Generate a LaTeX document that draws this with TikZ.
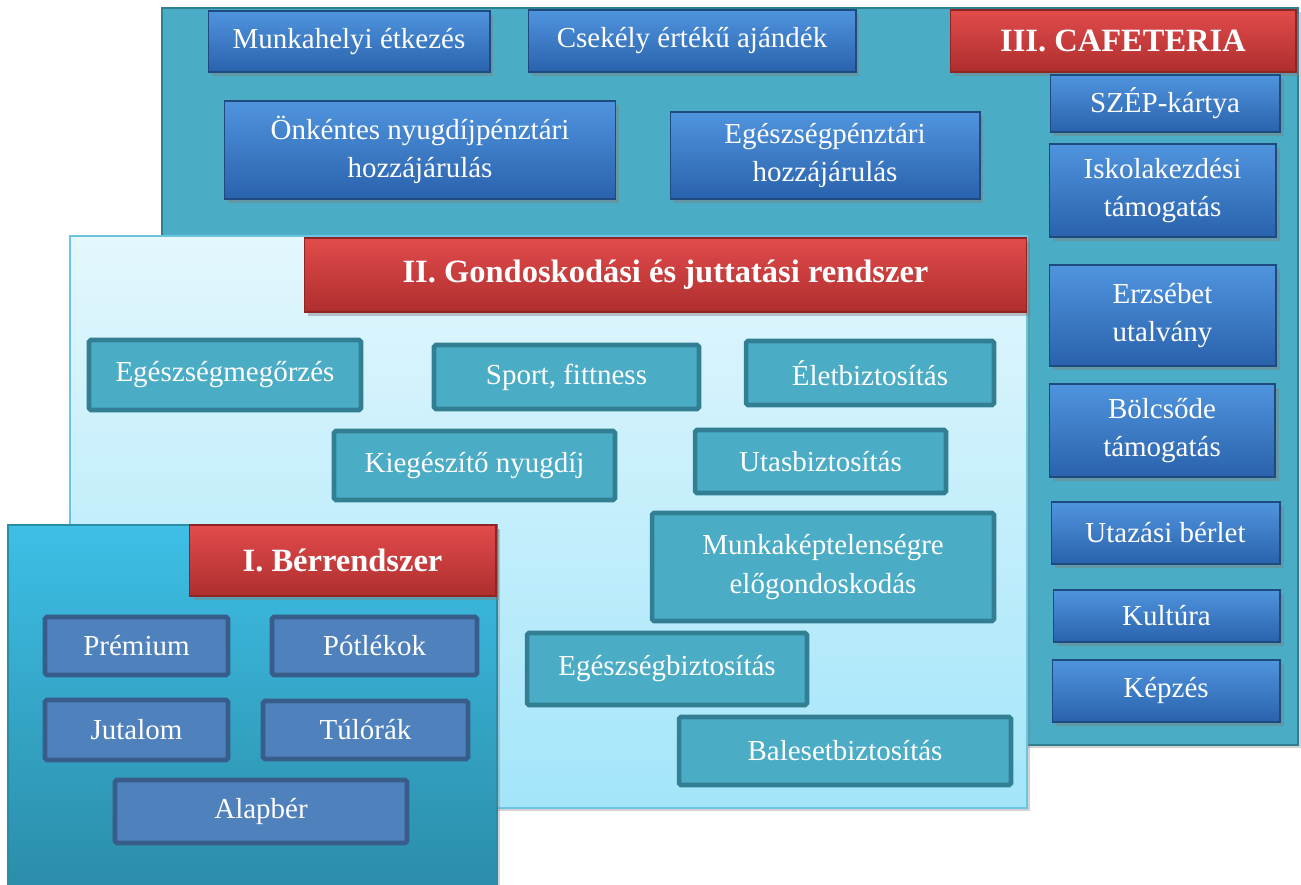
\documentclass[tikz,border=0pt]{standalone}
\usepackage{fontspec}
\setmainfont{Liberation Serif}
\usetikzlibrary{positioning,shadows}

\definecolor{cafefill}{HTML}{4BACC6}
\definecolor{cafeedge}{HTML}{2F7E92}
\definecolor{gondtop}{HTML}{E3F7FD}
\definecolor{gondbottom}{HTML}{A3E5F9}
\definecolor{gondedge}{HTML}{6CC5E0}
\definecolor{bertop}{HTML}{3DBFE6}
\definecolor{berbottom}{HTML}{2B8CA8}
\definecolor{headtop}{HTML}{E24B4B}
\definecolor{headbottom}{HTML}{AE2E2E}
\definecolor{headedge}{HTML}{8E2424}
\definecolor{beveltop}{HTML}{5094DE}
\definecolor{bevelbottom}{HTML}{2A62AC}
\definecolor{beveledge}{HTML}{1F4A80}
\definecolor{itemfill}{HTML}{4BACC6}
\definecolor{itemedge}{HTML}{327F93}
\definecolor{payfill}{HTML}{4F81BD}
\definecolor{payedge}{HTML}{385D8A}

\begin{document}
\begin{tikzpicture}[x=0.02cm,y=-0.02cm,
  every node/.style={font=\fontsize{16.5}{22}\selectfont, text=white, align=center, inner sep=2pt},
  panel/.style={line width=1.5pt, drop shadow={opacity=0.35, shadow xshift=2pt, shadow yshift=-2pt}},
  headbox/.style={draw=headedge, line width=0.6pt, top color=headtop, bottom color=headbottom,
    font=\fontsize{18.5}{22}\selectfont\bfseries, drop shadow={opacity=0.45, shadow xshift=2pt, shadow yshift=-2pt}},
  bevelbox/.style={draw=beveledge, line width=0.6pt, top color=beveltop, bottom color=bevelbottom,
    drop shadow={opacity=0.45, shadow xshift=2pt, shadow yshift=-2pt}},
  itembox/.style={draw=itemedge, fill=itemfill, line width=2.6pt, rounded corners=1pt},
  paybox/.style={draw=payedge, fill=payfill, line width=2.6pt, rounded corners=1pt}]

\useasboundingbox (0,0) rectangle (1301,885);

% III. cafeteria
\node[panel, draw=cafeedge, fill=cafefill, minimum width=22.72cm, minimum height=14.74cm] (panel_cafe) at (730,376.5) {};
\node[headbox, minimum width=6.92cm, minimum height=1.24cm] (head_cafe) at (1123,41) {III. CAFETERIA};
\node[bevelbox, minimum width=5.64cm, minimum height=1.22cm] (cafe_munka) at (349,41.5) {Munkahelyi étkezés};
\node[bevelbox, minimum width=6.56cm, minimum height=1.24cm] (cafe_ajandek) at (692,41) {Csekély értékű ajándék};
\node[bevelbox, minimum width=7.84cm, minimum height=1.96cm] (cafe_nyugdij) at (420,150) {Önkéntes nyugdíjpénztári\\hozzájárulás};
\node[bevelbox, minimum width=6.2cm, minimum height=1.74cm] (cafe_egeszseg) at (825,155.5) {Egészségpénztári\\hozzájárulás};
\node[bevelbox, minimum width=4.6cm, minimum height=1.14cm] (cafe_szep) at (1165,103.5) {SZÉP-kártya};
\node[bevelbox, minimum width=4.54cm, minimum height=1.86cm] (cafe_iskola) at (1162.5,190.5) {Iskolakezdési\\támogatás};
\node[bevelbox, minimum width=4.54cm, minimum height=2.02cm] (cafe_erzsebet) at (1162.5,315.5) {Erzsébet\\utalvány};
\node[bevelbox, minimum width=4.52cm, minimum height=1.86cm] (cafe_bolcsode) at (1162,430.5) {Bölcsőde\\támogatás};
\node[bevelbox, minimum width=4.58cm, minimum height=1.24cm] (cafe_berlet) at (1165.5,533) {Utazási bérlet};
\node[bevelbox, minimum width=4.54cm, minimum height=1.04cm] (cafe_kultura) at (1166.5,616) {Kultúra};
\node[bevelbox, minimum width=4.56cm, minimum height=1.24cm] (cafe_kepzes) at (1166,691) {Képzés};

% II. gondoskodasi rendszer
\node[panel, draw=gondedge, top color=gondtop, bottom color=gondbottom, line width=1pt, minimum width=19.14cm, minimum height=11.44cm] (panel_gond) at (548.5,522) {};
\node[headbox, minimum width=14.46cm, minimum height=1.48cm] (head_gond) at (665.5,275) {II. Gondoskodási és juttatási rendszer};
\node[itembox, minimum width=5.44cm, minimum height=1.4cm] (gond_megorzes) at (225,375) {Egészségmegőrzés};
\node[itembox, minimum width=5.3cm, minimum height=1.28cm] (gond_sport) at (566.5,377) {Sport, fittness};
\node[itembox, minimum width=4.96cm, minimum height=1.28cm] (gond_elet) at (870,373) {Életbiztosítás};
\node[itembox, minimum width=5.62cm, minimum height=1.38cm] (gond_nyugdij) at (474.5,465.5) {Kiegészítő nyugdíj};
\node[itembox, minimum width=5.02cm, minimum height=1.26cm] (gond_utas) at (820.5,461.5) {Utasbiztosítás};
\node[itembox, minimum width=6.84cm, minimum height=2.16cm] (gond_munka) at (823,567) {Munkaképtelenségre\\előgondoskodás};
\node[itembox, minimum width=5.6cm, minimum height=1.44cm] (gond_egeszseg) at (667,669) {Egészségbiztosítás};
\node[itembox, minimum width=6.64cm, minimum height=1.36cm] (gond_baleset) at (845,751) {Balesetbiztosítás};

% I. berrendszer
\node[panel, draw=berbottom, top color=bertop, bottom color=berbottom, line width=1pt, minimum width=9.78cm, minimum height=7.36cm] (panel_ber) at (252.5,709) {};
\node[headbox, minimum width=6.14cm, minimum height=1.42cm] (head_ber) at (342.5,560.5) {I. Bérrendszer};
\node[paybox, minimum width=3.66cm, minimum height=1.16cm] (ber_premium) at (136.5,646) {Prémium};
\node[paybox, minimum width=4.1cm, minimum height=1.16cm] (ber_potlek) at (374.5,646) {Pótlékok};
\node[paybox, minimum width=3.66cm, minimum height=1.2cm] (ber_jutalom) at (136.5,730) {Jutalom};
\node[paybox, minimum width=4.1cm, minimum height=1.16cm] (ber_tulora) at (365.5,730) {Túlórák};
\node[paybox, minimum width=5.84cm, minimum height=1.26cm] (ber_alap) at (261,811.5) {Alapbér};
\end{tikzpicture}
\end{document}
